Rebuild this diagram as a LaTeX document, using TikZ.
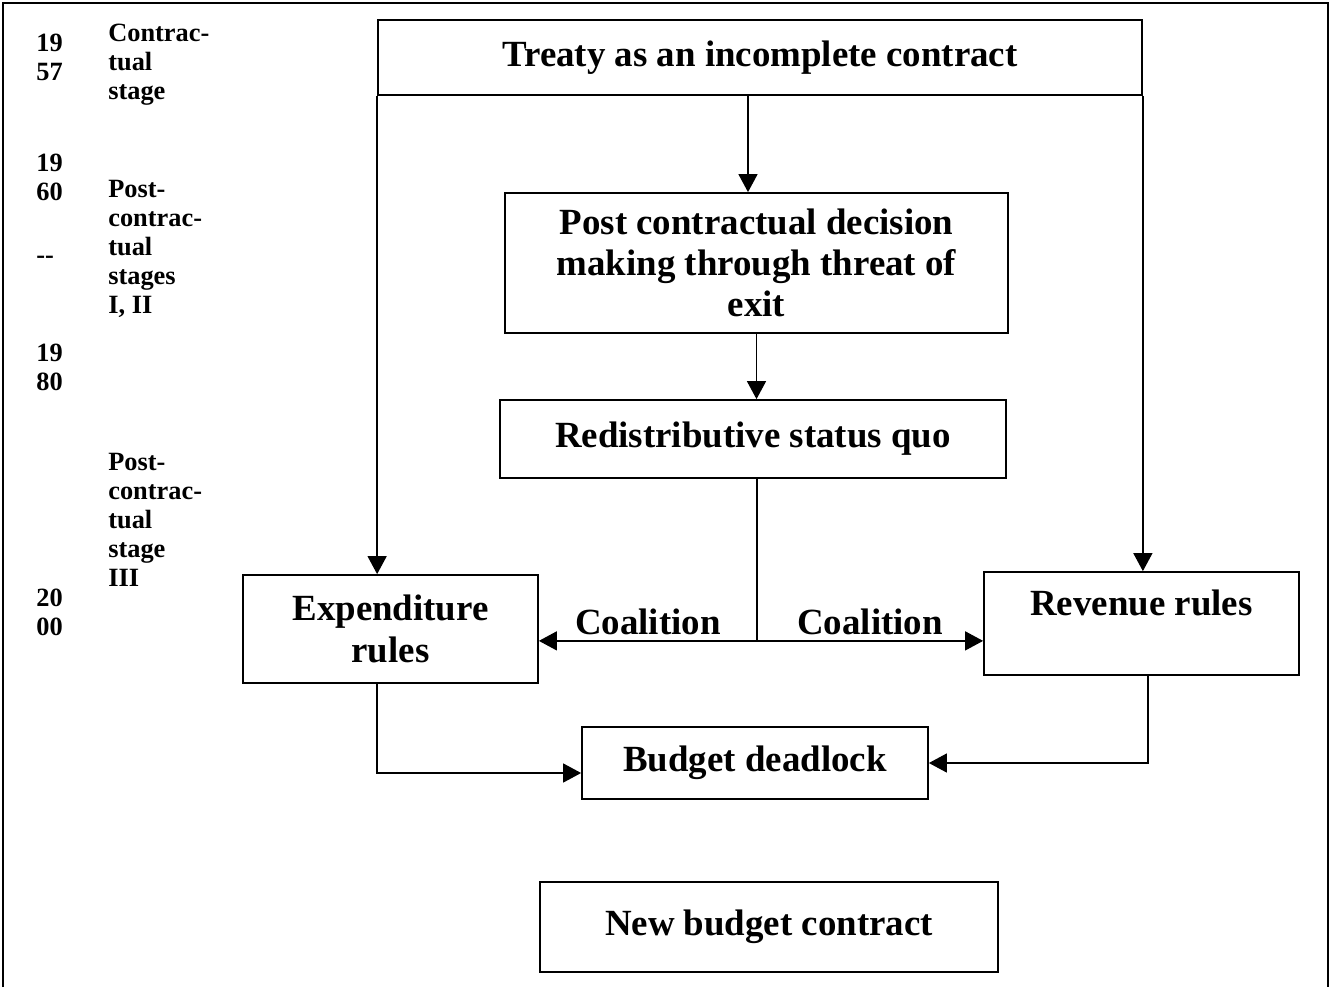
\documentclass[tikz,border=0pt]{standalone}
\usepackage{fontspec}
\setmainfont{Liberation Serif}
\usepackage{tikz}
\usetikzlibrary{arrows.meta}

\begin{document}
\begin{tikzpicture}[
    box/.style={draw, line width=1pt, align=center, inner sep=2pt, font=\bfseries\fontsize{21}{23.5}\selectfont},
    lbl/.style={inner sep=3pt, font=\bfseries\fontsize{21}{23.5}\selectfont},
    arr/.style={thick, -{Triangle[length=0.36cm,width=0.38cm]}},
    period/.style={anchor=north west, align=left, inner sep=0pt, font=\bfseries\fontsize{15}{16.5}\selectfont}]
    \useasboundingbox (0,0) rectangle (26.62,-19.74);
    \draw [line width=1.2pt] (0.06,-19.74) -- (0.06,-0.06) -- (26.56,-0.06) -- (26.56,-19.74);
    %years and stages
    \node[period] (y57) at (0.72,-0.68) {19\\57};
    \node[period] (st0) at (2.16,-0.48) {Contrac-\\tual\\stage};
    \node[period] (y60) at (0.72,-3.08) {19\\60};
    \node[period, anchor=base west] (dash) at (0.72,-5.27) {-{}-};
    \node[period] (st12) at (2.16,-3.6) {Post-\\contrac-\\tual\\stages\\I, II};
    \node[period] (y80) at (0.72,-6.88) {19\\80};
    \node[period] (st3) at (2.16,-9.06) {Post-\\contrac-\\tual\\stage\\III};
    \node[period] (y00) at (0.72,-11.78) {20\\00};
    %boxes
    \node[box, minimum width=15.28cm, minimum height=1.5cm] (treaty) at (15.2,-1.15) {Treaty as an incomplete contract};
    \node[box, minimum width=10.06cm, minimum height=2.8cm] (post) at (15.13,-5.26) {Post contractual decision\\making through threat of\\exit};
    \node[box, minimum width=10.12cm, minimum height=1.56cm] (redis) at (15.06,-8.78) {Redistributive status quo};
    \node[box, minimum width=5.9cm, minimum height=2.16cm] (expend) at (7.81,-12.58) {Expenditure\\rules};
    \node[box, minimum width=6.3cm, minimum height=2.06cm] (revenue) at (22.83,-12.47) {Revenue rules\\\mbox{}};
    \node[box, minimum width=6.92cm, minimum height=1.44cm] (budget) at (15.1,-15.26) {Budget deadlock};
    \node[box, minimum width=9.16cm, minimum height=1.8cm] (newbudget) at (15.38,-18.54) {New budget contract};
    %connections
    \draw[arr] (treaty.south west) -- (treaty.south west |- expend.north);
    \draw[arr] (treaty.south east) -- (treaty.south east |- revenue.north);
    \draw[arr] ([xshift=-0.24cm]treaty.south) -- ([xshift=-0.24cm]treaty.south |- post.north);
    \draw[arr] (post.south) -- (post.south |- redis.north);
    \draw[thick] ([xshift=0.08cm]redis.south) -- ++(0,-3.24) coordinate (split);
    \draw[arr] (split) -- (split -| expend.east) node[lbl, midway, above] (coalleft) {Coalition};
    \draw[arr] (split) -- (split -| revenue.west) node[lbl, midway, above] (coalright) {Coalition};
    \draw[arr] (treaty.south west |- expend.south) |- ([yshift=-0.2cm]budget.west);
    \draw[arr] ([xshift=0.13cm]revenue.south) |- (budget.east);
\end{tikzpicture}
\end{document}
